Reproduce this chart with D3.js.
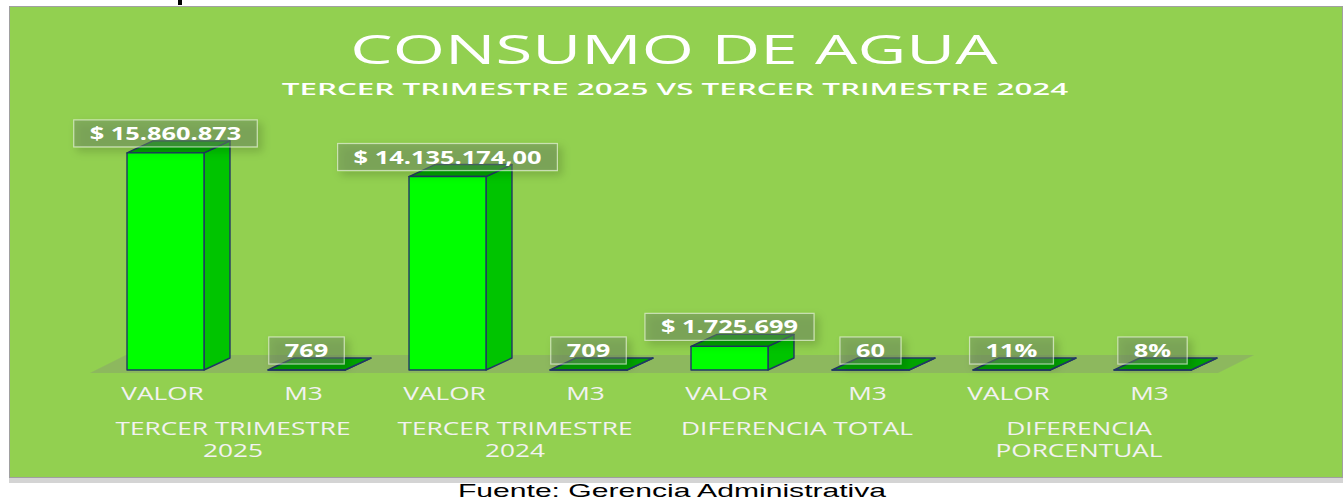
<!DOCTYPE html>
<html>
<head>
<meta charset="utf-8">
<style>
    body { margin: 0; background: #fff; }
</style>
</head>
<body>
<svg id="chart" width="1343" height="500" font-family="Open Sans, sans-serif"></svg>

<script src="https://d3js.org/d3.v7.min.js"></script>
<script>
    // datos
    const categorias = ["VALOR", "M3", "VALOR", "M3", "VALOR", "M3", "VALOR", "M3"]
    const valores = [15860873, 769, 14135174, 709, 1725699, 60, 0.11, 0.08]
    const etiquetas = ["$ 15.860.873", "769", "$ 14.135.174,00", "709", "$ 1.725.699", "60", "11%", "8%"]
    const grupos = [["TERCER TRIMESTRE", "2025"], ["TERCER TRIMESTRE", "2024"], ["DIFERENCIA TOTAL"], ["DIFERENCIA", "PORCENTUAL"]]
    const titulo = "CONSUMO DE AGUA"
    const subtitulo = "TERCER TRIMESTRE 2025 VS TERCER TRIMESTRE 2024"
    const fuente = "Fuente: Gerencia Administrativa"

    let svg = d3.select("#chart")

    // the picture is stretched sideways, so texts get a horizontal scale
    function stretched(parent, txt, cx, cy, sx) {
        return parent.append("text")
            .attr("transform", `translate(${cx},${cy}) scale(${sx},1)`)
            .attr("text-anchor", "middle")
            .text(txt)
    }

    let defs = svg.append("defs")
    defs.append("filter").attr("id", "sombra")
        .attr("x", "-30%").attr("y", "-60%").attr("width", "170%").attr("height", "260%")
        .append("feDropShadow")
        .attr("dx", 4).attr("dy", 4).attr("stdDeviation", 4)
        .attr("flood-color", "#000").attr("flood-opacity", 0.35)

    // panel
    svg.append("rect").attr("x", 9).attr("y", 478).attr("width", 1334).attr("height", 5).attr("fill", "#d4d4d4")
    svg.append("rect")
        .attr("x", 9.5).attr("y", 6.5).attr("width", 1333).attr("height", 471)
        .attr("fill", "#92d050").attr("stroke", "#a0a0a0")
    // trozo de texto cortado arriba
    svg.append("rect").attr("x", 178).attr("y", 0).attr("width", 4).attr("height", 5).attr("fill", "#000")

    stretched(svg, titulo, 674, 64, 1.68).attr("fill", "#fff").attr("font-size", 40)
    stretched(svg, subtitulo, 675, 95, 1.9).attr("fill", "#fff").attr("font-size", 16.5).attr("font-weight", 600)

    let x = d3.scaleBand()
        .domain(d3.range(categorias.length))
        .range([95, 1223])
        .paddingInner(0.454)
        .paddingOuter(0.227)

    let y = d3.scaleLinear()
        .domain([0, 16000000])
        .range([370, 151])

    let dx = 26, dy = -12
    let base = y(0)
    let w = x.bandwidth()

    // floor
    let r = x.range()
    svg.append("polygon")
        .attr("points", [[r[0] - 5, base + 3], [r[1] - 5, base + 3], [r[1] + 31, base - 15], [r[0] + 31, base - 15]].join(" "))
        .attr("fill", "#808080").attr("opacity", 0.3)

    let bars = svg.selectAll("g.bar")
        .data(valores)
        .enter()
        .append("g")
        .attr("class", "bar")
        .attr("stroke", "#203864")
        .attr("stroke-width", 1.4)
        .attr("stroke-linejoin", "round")

    bars.append("polygon")
        .attr("points", (d, i) => {
            let x0 = x(i) + w, t = y(d)
            return [[x0, base], [x0 + dx, base + dy], [x0 + dx, t + dy], [x0, t]].join(" ")
        })
        .attr("fill", "#00c400")

    bars.append("polygon")
        .attr("points", (d, i) => {
            let x0 = x(i), t = y(d)
            return [[x0, t], [x0 + w, t], [x0 + w + dx, t + dy], [x0 + dx, t + dy]].join(" ")
        })
        .attr("fill", "#00a300")

    bars.append("rect")
        .attr("x", (d, i) => x(i))
        .attr("y", d => y(d))
        .attr("width", w)
        .attr("height", d => base - y(d))
        .attr("fill", "#00ff00")

    // data labels
    let labels = svg.selectAll("g.lbl")
        .data(valores)
        .enter()
        .append("g")
        .attr("class", "lbl")

    labels.each(function (d, i) {
        let g = d3.select(this)
        let cx = x(i) + w / 2
        let t = y(d)
        let rect = g.append("rect")
        let txt = stretched(g, etiquetas[i], cx, t - 13, 1.45)
            .attr("fill", "#fff")
            .attr("font-weight", 700)
            .attr("font-size", 17.5)
        let tw = txt.node().getComputedTextLength() * 1.45 + 32
        rect.attr("x", cx - tw / 2).attr("y", t - 33)
            .attr("width", tw).attr("height", 27)
            .attr("fill", "rgba(110,135,100,0.45)")
            .attr("stroke", "rgba(255,255,255,0.55)")
            .attr("stroke-width", 1.2)
            .attr("filter", "url(#sombra)")
    })

    // category labels
    let axisG = svg.append("g").attr("fill", "#f2f2f2").attr("font-size", 17.5)
    categorias.forEach((c, i) => {
        stretched(axisG, c, x(i) + w / 2 - 3, 400, 1.5)
    })
    grupos.forEach((lines, k) => {
        let cx = (x(2 * k) + x(2 * k + 1)) / 2 + w / 2 - 3
        lines.forEach((l, j) => {
            stretched(axisG, l, cx, 435 + j * 22, 1.5)
        })
    })

    stretched(svg, fuente, 672, 497, 1.72)
        .attr("font-family", "Liberation Sans, Arial, sans-serif")
        .attr("font-size", 17.5)
        .attr("fill", "#000")
</script>
</body>
</html>
